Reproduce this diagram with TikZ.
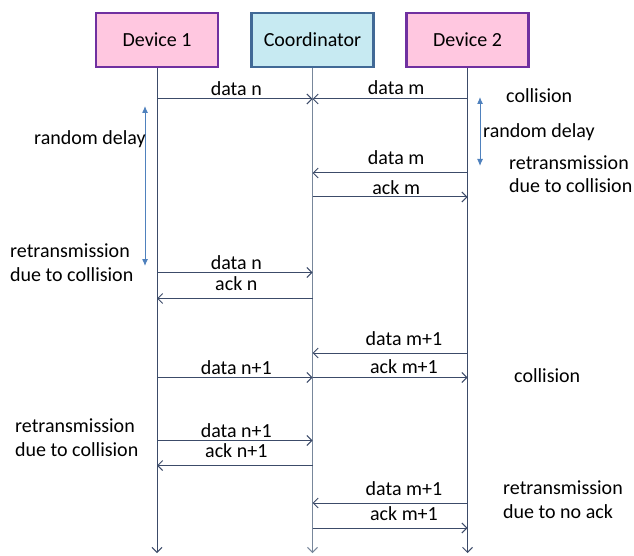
\documentclass[tikz,border=0pt]{standalone}
\usepackage{fontspec}
\setmainfont{Carlito}
\usetikzlibrary{arrows.meta}
\definecolor{devfill}{RGB}{255,199,224}
\definecolor{devline}{RGB}{112,48,160}
\definecolor{cofill}{RGB}{199,234,242}
\definecolor{coline}{RGB}{65,105,150}
\definecolor{lifeline}{RGB}{60,75,105}
\definecolor{colife}{RGB}{120,135,155}
\definecolor{delayblue}{RGB}{79,129,189}
\tikzset{
  box/.style={draw, line width=2.5pt, minimum width=122pt, minimum height=54pt, font=\fontsize{20}{24}\selectfont},
  devbox/.style={box, fill=devfill, draw=devline},
  cobox/.style={box, fill=cofill, draw=coline},
  life/.style={draw=lifeline, line width=1pt, -{Straight Barb[length=5pt,width=10pt]}},
  msg/.style={draw=lifeline, line width=1pt, -{Straight Barb[length=5pt,width=10pt]}},
  lbl/.style={font=\fontsize{20}{24}\selectfont, anchor=base, inner sep=0pt, text=black},
  note/.style={font=\fontsize{20}{23.5}\selectfont, anchor=base west, inner sep=0pt, align=left},
  delay/.style={draw=delayblue, line width=1pt, {Latex[length=7pt,width=6pt]}-{Latex[length=7pt,width=6pt]}}
}
\begin{document}
\begin{tikzpicture}[x=1pt,y=-1pt]
\useasboundingbox (0,0) rectangle (634,556);
\node[devbox] (d1) at (157,40) {Device 1};
\node[cobox] (co) at (312.5,40) {Coordinator};
\node[devbox] (d2) at (467.5,40) {Device 2};
\coordinate (d1e) at (157,553);
\coordinate (coe) at (312.5,553);
\coordinate (d2e) at (467.5,553);
\draw[life] (d1) -- (d1e);
\draw[life, draw=colife] (co) -- (coe);
\draw[life] (d2) -- (d2e);
% messages
\draw[msg] (d1 |- 0,99) -- node[lbl, pos=.51, yshift=3pt] {data n} (co |- 0,99);
\draw[msg] (d2 |- 0,99) -- node[lbl, pos=.46, yshift=4pt] {data m} (co |- 0,99);
\draw[msg] (d2 |- 0,173) -- node[lbl, pos=.46, yshift=8pt] {data m} (co |- 0,173);
\draw[msg] (co |- 0,197) -- node[lbl, pos=.54, yshift=2pt] {ack m} (d2 |- 0,197);
\draw[msg] (d1 |- 0,272.5) -- node[lbl, pos=.51, yshift=3pt] {data n} (co |- 0,272.5);
\draw[msg] (co |- 0,298.5) -- node[lbl, pos=.49, yshift=8.5pt] {ack n} (d1 |- 0,298.5);
\draw[msg] (d2 |- 0,353) -- node[lbl, pos=.41, yshift=8pt] {data m+1} (co |- 0,353);
\draw[msg] (co |- 0,377.5) -- node[lbl, pos=.59, yshift=4pt] {ack m+1} (d2 |- 0,377.5);
\draw[msg] (d1 |- 0,377.5) -- node[lbl, pos=.51, yshift=3pt] {data n+1} (co |- 0,377.5);
\draw[msg] (d1 |- 0,440.5) -- node[lbl, pos=.51, yshift=3.5pt] {data n+1} (co |- 0,440.5);
\draw[msg] (co |- 0,465.5) -- node[lbl, pos=.49, yshift=8.5pt] {ack n+1} (d1 |- 0,465.5);
\draw[msg] (d2 |- 0,503) -- node[lbl, pos=.41, yshift=8pt] {data m+1} (co |- 0,503);
\draw[msg] (co |- 0,528) -- node[lbl, pos=.59, yshift=8pt] {ack m+1} (d2 |- 0,528);
% delays
\coordinate (ld1) at (145,106);
\coordinate (ld2) at (145,266);
\draw[delay] (ld1) -- (ld2);
\coordinate (rd1) at (480,97);
\coordinate (rd2) at (480,166);
\draw[delay] (rd1) -- (rd2);
% notes
\node[note] (n1) at (34,145) {random delay};
\node[note] (n2) at (10,281) {retransmission\\due to collision};
\node[note] (n3) at (506,103) {collision};
\node[note] (n4) at (483,138) {random delay};
\node[note] (n5) at (509,193) {retransmission\\due to collision};
\node[note] (n6) at (514,382) {collision};
\node[note] (n7) at (15,456) {retransmission\\due to collision};
\node[note] (n8) at (503,518) {retransmission\\due to no ack};
\end{tikzpicture}
\end{document}
